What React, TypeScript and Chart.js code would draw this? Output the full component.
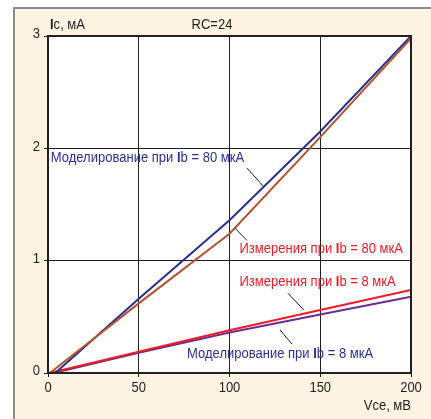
import React, { useEffect, useRef } from "react";
import { Chart, registerables } from "chart.js";

Chart.register(...registerables);

// Data (Vce in mV, Ic in mA)
const model80X = [4, 50, 100, 150, 200];
const model80Y = [0, 0.66, 1.36, 2.15, 3.0];
const meas80X = [1, 50, 100, 150, 200];
const meas80Y = [0, 0.62, 1.24, 2.1, 2.98];
const meas8X = [1, 50, 100, 150, 200];
const meas8Y = [0, 0.19, 0.38, 0.56, 0.74];
const model8X = [3, 50, 100, 150, 200];
const model8Y = [0, 0.18, 0.36, 0.52, 0.68];

const xTicks = [0, 50, 100, 150, 200];
const yTicks = [0, 1, 2, 3];

const FONT = '"Liberation Sans", Arial, sans-serif';
const SIZE = 15.5;
const SX = 0.84;
const BLUE = "#2e3192";
const RED = "#ed1c24";
const BROWN = "#b5532f";
const PURPLE = "#6b2d90";
const NAVY = "#2b2f8e";
const INK = "#231f20";

const toPts = (xs: number[], ys: number[]) => xs.map((x, i) => ({ x, y: ys[i] }));

type Seg = { t: string; bold?: boolean };
const drawSegs = (
  ctx: CanvasRenderingContext2D,
  segs: Seg[],
  x: number,
  y: number,
  color: string,
  align: "left" | "center" | "right" = "left"
) => {
  ctx.save();
  ctx.fillStyle = color;
  ctx.textBaseline = "middle";
  ctx.textAlign = "left";
  let total = 0;
  for (const s of segs) {
    ctx.font = `${s.bold ? "bold " : ""}${SIZE}px ${FONT}`;
    total += ctx.measureText(s.t).width;
  }
  let start = 0;
  if (align === "center") start = -total / 2;
  if (align === "right") start = -total;
  ctx.translate(x, y);
  ctx.scale(SX, 1);
  let cx = start;
  for (const s of segs) {
    ctx.font = `${s.bold ? "bold " : ""}${SIZE}px ${FONT}`;
    ctx.fillText(s.t, cx, 0);
    cx += ctx.measureText(s.t).width;
  }
  ctx.restore();
};

const labels = [
  { segs: [{ t: "Моделирование при " }, { t: "I", bold: true }, { t: "b = 80 мкА" }], x: 1.5, y: 1.92, color: BLUE, leader: [109.6, 1.825, 118.5, 1.665] },
  { segs: [{ t: "Измерения при " }, { t: "I", bold: true }, { t: "b = 80 мкА" }], x: 105.5, y: 1.105, color: RED, leader: [103, 1.29, 109.6, 1.18] },
  { segs: [{ t: "Измерения при " }, { t: "I", bold: true }, { t: "b = 8 мкА" }], x: 105.5, y: 0.815, color: RED, leader: [132.2, 0.71, 141, 0.56] },
  { segs: [{ t: "Моделирование при " }, { t: "I", bold: true }, { t: "b = 8 мкА" }], x: 76.6, y: 0.17, color: BLUE, leader: [127.8, 0.383, 134.4, 0.258] },
];

const framePlugin = {
  id: "frame",
  beforeDraw(chart: any) {
    const { ctx, width, height, chartArea: a } = chart;
    ctx.save();
    ctx.fillStyle = "#ffffff";
    ctx.fillRect(0, 0, width, height);
    ctx.fillStyle = "#fdf4e3";
    ctx.fillRect(14, 8, width - 14, height - 8);
    ctx.strokeStyle = "#8c8c8c";
    ctx.lineWidth = 2;
    ctx.beginPath();
    ctx.moveTo(14, height);
    ctx.lineTo(14, 8);
    ctx.lineTo(width, 8);
    ctx.stroke();
    ctx.fillStyle = "#ffffff";
    ctx.fillRect(a.left, a.top, a.right - a.left, a.bottom - a.top);
    ctx.restore();
  },
  afterDraw(chart: any) {
    const { ctx, chartArea: a, scales } = chart;
    const xs = scales.x;
    const ys = scales.y;
    ctx.save();
    ctx.strokeStyle = INK;
    ctx.lineWidth = 2;
    ctx.strokeRect(a.left, a.top, a.right - a.left, a.bottom - a.top);
    ctx.lineWidth = 1;
    for (const l of labels) {
      const [x1, y1, x2, y2] = l.leader;
      ctx.beginPath();
      ctx.moveTo(xs.getPixelForValue(x1), ys.getPixelForValue(y1));
      ctx.lineTo(xs.getPixelForValue(x2), ys.getPixelForValue(y2));
      ctx.stroke();
    }
    ctx.restore();
    for (const l of labels) {
      drawSegs(ctx, l.segs, xs.getPixelForValue(l.x), ys.getPixelForValue(l.y), l.color);
    }
    // tick labels
    for (const v of xTicks) {
      drawSegs(ctx, [{ t: String(v) }], xs.getPixelForValue(v), a.bottom + 15, INK, "center");
    }
    for (const v of yTicks) {
      drawSegs(ctx, [{ t: String(v) }], a.left - 8, ys.getPixelForValue(v) - 2, INK, "right");
    }
    // axis titles
    drawSegs(ctx, [{ t: "I", bold: true }, { t: "c, мА" }], a.left + 2, a.top - 11, INK);
    drawSegs(ctx, [{ t: "RC=24" }], 212, a.top - 11, INK, "center");
    drawSegs(ctx, [{ t: "Vce, мВ" }], a.right, a.bottom + 33, INK, "right");
  },
};

export default function App() {
  const ref = useRef<HTMLCanvasElement>(null);
  useEffect(() => {
    document.body.style.margin = "0";
    const chart = new Chart(ref.current!, {
      type: "line",
      data: {
        datasets: [
          { label: "meas80", data: toPts(meas80X, meas80Y), borderColor: BROWN, borderWidth: 2 },
          { label: "model80", data: toPts(model80X, model80Y), borderColor: NAVY, borderWidth: 2 },
          { label: "meas8", data: toPts(meas8X, meas8Y), borderColor: RED, borderWidth: 2 },
          { label: "model8", data: toPts(model8X, model8Y), borderColor: PURPLE, borderWidth: 2 },
        ],
      },
      options: {
        animation: false,
        responsive: false,
        devicePixelRatio: 1,
        layout: { padding: { left: 0, top: 36, right: 20, bottom: 0 } },
        elements: { point: { radius: 0 }, line: { tension: 0 } },
        plugins: { legend: { display: false }, tooltip: { enabled: false }, title: { display: false } },
        scales: {
          x: {
            type: "linear",
            min: 0,
            max: 200,
            afterBuildTicks: (s: any) => { s.ticks = xTicks.map((v) => ({ value: v })); },
            afterFit: (s: any) => { s.height = 46; },
            grid: { color: INK, lineWidth: 1, tickLength: 4, drawTicks: true },
            border: { display: false },
            ticks: { display: false },
          },
          y: {
            type: "linear",
            min: 0,
            max: 3,
            afterBuildTicks: (s: any) => { s.ticks = yTicks.map((v) => ({ value: v })); },
            afterFit: (s: any) => { s.width = 48; },
            grid: { color: INK, lineWidth: 1, tickLength: 4, drawTicks: true },
            border: { display: false },
            ticks: { display: false },
          },
        },
      },
      plugins: [framePlugin],
    } as any);
    return () => chart.destroy();
  }, []);
  return <canvas ref={ref} width={431} height={419} style={{ display: "block", width: 431, height: 419 }} />;
}
